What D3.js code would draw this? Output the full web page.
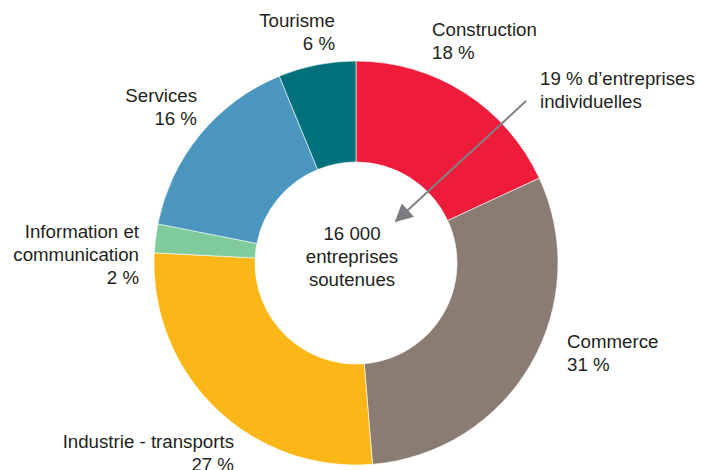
<!DOCTYPE html>
<html>
<head>
<meta charset="utf-8">
<script src="https://cdn.jsdelivr.net/npm/d3@7"></script>
<style>
  body { margin: 0; background: #fff; }
  text { font-family: "Liberation Sans", Arial, sans-serif; fill: #231f20; }
</style>
</head>
<body>
<div id="container"></div>
<script>
/* DATA */
const categories = ["Construction", "Commerce", "Industrie - transports", "Information et communication", "Services", "Tourisme"];
// shares; labels show them rounded
const shares = [18.1, 30.6, 27.1, 2.3, 15.7, 6.2];
const colours = ["#ee1c3b", "#8a7b73", "#fbb717", "#7fcb9c", "#4a96be", "#00717a"];
const centreLines = ["16 000", "entreprises", "soutenues"];
const noteLines = ["19 % d\u2019entreprises", "individuelles"];

// label lines as printed (name lines then the share)
const labelLines = [
  ["Construction"],
  ["Commerce"],
  ["Industrie - transports"],
  ["Information et", "communication"],
  ["Services"],
  ["Tourisme"]
];

/* LAYOUT */
const width = 701, height = 470;
const cx = 356, cy = 263;
const outerR = 202, innerR = 101;
const lineH = 23;

// where each label sits (first baseline) and how it is anchored
const labelPos = [
  { x: 432, y: 36, anchor: "start" },
  { x: 567, y: 348, anchor: "start" },
  { x: 234, y: 448, anchor: "end" },
  { x: 139, y: 238, anchor: "end" },
  { x: 197, y: 102, anchor: "end" },
  { x: 335, y: 27, anchor: "end" }
];

const svg = d3.select("#container").append("svg")
  .attr("width", width)
  .attr("height", height);

const color = d3.scaleOrdinal().domain(categories).range(colours);

const pie = d3.pie().sort(null).value(d => d.value);
const arc = d3.arc().innerRadius(innerR).outerRadius(outerR);

const data = categories.map((c, i) => ({ name: c, value: shares[i] }));

const g = svg.append("g").attr("transform", `translate(${cx},${cy})`);

g.selectAll("path.slice")
  .data(pie(data))
  .join("path")
  .attr("class", "slice")
  .attr("d", arc)
  .attr("fill", d => color(d.data.name))
  .attr("stroke", "#fff")
  .attr("stroke-width", 0.6);

/* LABELS */
const labels = svg.selectAll("text.label")
  .data(data)
  .join("text")
  .attr("class", "label")
  .attr("text-anchor", (d, i) => labelPos[i].anchor)
  .style("font-size", "18.7px");

labels.each(function(d, i) {
  const t = d3.select(this);
  const lines = labelLines[i].concat([Math.round(d.value) + " %"]);
  lines.forEach((l, j) => {
    t.append("tspan")
      .attr("x", labelPos[i].x)
      .attr("y", labelPos[i].y + j * lineH)
      .text(l);
  });
});

/* CENTRE TEXT */
svg.append("text")
  .attr("text-anchor", "middle")
  .style("font-size", "18.7px")
  .selectAll("tspan")
  .data(centreLines)
  .join("tspan")
  .attr("x", cx - 4)
  .attr("y", (d, i) => 240 + i * lineH)
  .text(d => d);

/* NOTE + ARROW */
svg.append("text")
  .style("font-size", "18.7px")
  .selectAll("tspan")
  .data(noteLines)
  .join("tspan")
  .attr("x", 540)
  .attr("y", (d, i) => 85 + i * lineH)
  .text(d => d);

svg.append("defs").append("marker")
  .attr("id", "head")
  .attr("viewBox", "0 0 10 10")
  .attr("refX", 9)
  .attr("refY", 5)
  .attr("markerUnits", "userSpaceOnUse")
  .attr("markerWidth", 22)
  .attr("markerHeight", 18)
  .attr("orient", "auto")
  .append("path")
  .attr("d", "M0,0 L10,5 L0,10 Z")
  .attr("fill", "#7b7c80");

svg.append("line")
  .attr("x1", 526).attr("y1", 101)
  .attr("x2", 396).attr("y2", 221)
  .attr("stroke", "#808285")
  .attr("stroke-width", 2)
  .attr("marker-end", "url(#head)");
</script>
</body>
</html>
